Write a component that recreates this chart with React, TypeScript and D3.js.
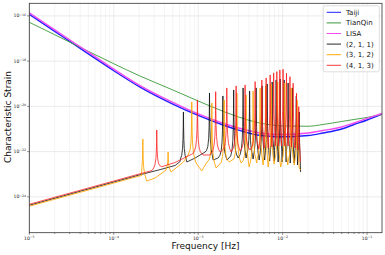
import React from 'react';
import * as d3 from 'd3';

type Pt = [number, number];

// sensitivity curves, read at fixed frequencies
const sensFreq = [1e-5, 2e-5, 5e-5, 1e-4, 2e-4, 5e-4, 1e-3, 2e-3, 3e-3, 5e-3, 7e-3, 1e-2, 2e-2, 3e-2, 5e-2, 7e-2, 1e-1, 0.15];
const taiji = [1.16e-16, 2.06e-17, 2.1e-18, 3.76e-19, 7.44e-20, 1.26e-20, 3.96e-21, 1.46e-21, 8.93e-22, 5.43e-22, 4.8e-22, 4.56e-22, 5.15e-22, 6.65e-22, 1.0e-21, 1.58e-21, 2.5e-21, 4.61e-21];
const tianqin = [5.21e-17, 1.47e-17, 2.71e-18, 7.67e-19, 2.28e-19, 5.32e-20, 1.72e-20, 5.94e-21, 3.4e-21, 1.94e-21, 1.55e-21, 1.36e-21, 1.32e-21, 1.58e-21, 2.15e-21, 2.63e-21, 3.23e-21, 4.38e-21];
const lisa = [1.36e-16, 2.4e-17, 2.48e-18, 4.43e-19, 8.67e-20, 1.49e-20, 4.61e-21, 1.75e-21, 1.11e-21, 7.0e-22, 6.01e-22, 5.71e-22, 6.65e-22, 8.59e-22, 1.23e-21, 1.84e-21, 2.92e-21, 4.85e-21];

// harmonic modes: smooth floor (troughs) + resonance tops
const floor211: Pt[] = [
  [1e-5, 4.25e-25], [1e-4, 4.52e-24], [2e-4, 9.22e-24], [3.54e-4, 1.6e-23], [5.32e-4, 2.43e-23],
  [6.1e-4, 3.65e-23], [7.33e-4, 3.47e-23], [9.19e-4, 5.21e-23], [1.21e-3, 9.6e-23], [1.5e-3, 4.25e-23],
  [1.72e-3, 5.21e-23], [2.2e-3, 4.25e-23], [2.97e-3, 5.21e-23], [3.69e-3, 5.21e-23], [4.47e-3, 4.71e-23],
  [5.27e-3, 4.25e-23], [6.12e-3, 4.25e-23], [7.01e-3, 3.84e-23], [7.93e-3, 3.84e-23], [8.84e-3, 3.47e-23],
  [9.86e-3, 3.47e-23], [1.1e-2, 3.47e-23], [1.23e-2, 3.13e-23], [1.37e-2, 3.13e-23], [1.5e-2, 2.55e-23],
  [1.63e-2, 1.25e-23],
];
const peaks211: Pt[] = [
  [6.68e-4, 5.65e-21], [1.36e-3, 3.92e-20], [1.96e-3, 2.88e-20], [2.63e-3, 5.32e-20], [3.4e-3, 6.52e-20],
  [4.06e-3, 4.8e-20], [4.85e-3, 6.52e-20], [5.71e-3, 8.0e-20], [6.55e-3, 9.8e-20], [7.51e-3, 1.2e-19],
  [8.37e-3, 1.47e-19], [9.34e-3, 1.63e-19], [1.04e-2, 1.47e-19], [1.16e-2, 1.08e-19], [1.3e-2, 6.52e-20],
  [1.45e-2, 2.88e-20], [1.57e-2, 5.65e-21],
];

const floor312: Pt[] = [
  [1e-5, 3.84e-25], [1e-4, 4.08e-24], [2e-4, 8.32e-24], [2.13e-4, 8.75e-24], [2.46e-4, 5.0e-24],
  [3.08e-4, 6.79e-24], [4.17e-4, 1.53e-23], [4.77e-4, 1.25e-23], [6.68e-4, 3.47e-23], [7.59e-4, 7.08e-23],
  [9.44e-4, 3.13e-23], [1.1e-3, 1.39e-23], [1.27e-3, 3.47e-23], [1.63e-3, 1.88e-23], [2.32e-3, 3.47e-23],
  [3.22e-3, 3.13e-23], [4.01e-3, 2.08e-23], [4.92e-3, 3.13e-23], [5.87e-3, 2.55e-23], [6.73e-3, 2.08e-23],
  [7.93e-3, 2.83e-23], [9.47e-3, 2.08e-23], [1.15e-2, 2.55e-23], [1.37e-2, 2.55e-23], [1.57e-2, 1.88e-23],
  [1.63e-2, 1.53e-23],
];
const peaks312: Pt[] = [
  [2.21e-4, 3.61e-22], [4.4e-4, 9.6e-23], [8.39e-4, 1.57e-20], [1.45e-3, 1.41e-20], [2.03e-3, 1.92e-20],
  [2.87e-3, 3.92e-20], [3.69e-3, 3.19e-20], [4.47e-3, 4.8e-20], [5.41e-3, 6.52e-20], [6.29e-3, 8.0e-20],
  [7.31e-3, 9.8e-20], [8.73e-3, 1.2e-19], [1.06e-2, 1.08e-19], [1.26e-2, 6.52e-20], [1.48e-2, 1.92e-20],
];

const floor413: Pt[] = [
  [1e-5, 4.7e-25], [1e-4, 5.0e-24], [2e-4, 1.02e-23], [2.84e-4, 1.46e-23], [3.7e-4, 2.15e-23],
  [5.32e-4, 3.3e-23], [6.99e-4, 5.48e-23], [8.77e-4, 8.41e-23], [1.14e-3, 7.08e-23], [1.38e-3, 7.08e-23],
  [1.82e-3, 9.6e-23], [2.45e-3, 9.6e-23], [3.14e-3, 1.06e-22], [4.12e-3, 1.18e-22], [5.2e-3, 1.3e-22],
  [6.04e-3, 1.44e-22], [6.73e-3, 1.44e-22], [7.46e-3, 1.6e-22], [8.17e-3, 1.77e-22], [8.89e-3, 1.77e-22],
  [9.68e-3, 1.77e-22], [1.06e-2, 1.77e-22], [1.16e-2, 1.77e-22], [1.27e-2, 1.6e-22], [1.39e-2, 1.44e-22],
  [1.5e-2, 1.18e-22], [1.62e-2, 3.47e-23],
];
const peaks413: Pt[] = [
  [3.23e-4, 9.03e-22], [9.78e-4, 1.92e-20], [1.61e-3, 4.47e-20], [2.18e-3, 6.52e-20], [2.81e-3, 8.0e-20],
  [3.59e-3, 8.85e-20], [4.72e-3, 1.24e-19], [5.67e-3, 1.47e-19], [6.37e-3, 1.81e-19], [7.11e-3, 2.45e-19],
  [7.82e-3, 3.01e-19], [8.53e-3, 3.43e-19], [9.26e-3, 4.08e-19], [1.01e-2, 4.38e-19], [1.11e-2, 2.92e-19],
  [1.22e-2, 2.06e-19], [1.33e-2, 1.05e-19], [1.46e-2, 3.8e-20], [1.55e-2, 9.7e-21],
];

const xDomain = [1e-5, 0.15];
const yDomain = [2.6e-26, 3.6e-16];
const xMajor = [-5, -4, -3, -2, -1];
const yMajor = [-16, -18, -20, -22, -24];

// merge the resonance tops into the floor as cusps (log-log)
const withPeaks = (floor: Pt[], peaks: Pt[]): Pt[] => {
  const lx = floor.map((d) => Math.log10(d[0]));
  const ly = floor.map((d) => Math.log10(d[1]));
  const base = (p: number) => {
    const i = Math.max(0, Math.min(lx.length - 2, d3.bisectRight(lx, p) - 1));
    const t = (p - lx[i]) / (lx[i + 1] - lx[i]);
    return ly[i] + t * (ly[i + 1] - ly[i]);
  };
  const pts: Pt[] = lx.map((v, i) => [v, ly[i]]);
  const side = [[0.002, 0.7], [0.005, 0.45], [0.01, 0.27], [0.02, 0.13], [0.035, 0.05]];
  const shape = [...side.map(([o, k]) => [-o, k]), [0, 1], ...side];
  peaks.forEach(([f, h]) => {
    const lf = Math.log10(f);
    const lh = Math.log10(h);
    const i = d3.bisectRight(lx, lf) - 1;
    shape.forEach(([o, k]) => {
      const p = lf + o;
      if (p <= lx[i] + 0.003 || p >= lx[i + 1] - 0.003) return;
      const b = base(p);
      pts.push([p, b + k * (lh - b)]);
    });
  });
  return pts.sort((a, b) => a[0] - b[0]).map(([a, b]) => [10 ** a, 10 ** b] as Pt);
};

const sens = [
  { name: 'Taiji', values: taiji, color: '#1f1fff', width: 1.4 },
  { name: 'TianQin', values: tianqin, color: '#3a9a3a', width: 0.9 },
  { name: 'LISA', values: lisa, color: '#f04cf0', width: 1.4 },
];
const modes = [
  { name: '(2, 1, 1)', pts: withPeaks(floor211, peaks211), color: '#111111', opacity: 0.9 },
  { name: '(3, 1, 2)', pts: withPeaks(floor312, peaks312), color: '#ffa500', opacity: 0.95 },
  { name: '(4, 1, 3)', pts: withPeaks(floor413, peaks413), color: '#ff1a1a', opacity: 0.85 },
];

const Sup = ({ e, size }: { e: number; size: number }) => (
  <>
    10
    <tspan dy={-size * 0.42} fontSize={size * 0.7}>{`\u2212${Math.abs(e)}`}</tspan>
  </>
);

export default function App() {
  const left = 29.3, right = 382, top = 3.3, bottom = 232.7;
  const x = d3.scaleLog().domain(xDomain).range([left, right]);
  const y = d3.scaleLog().domain(yDomain).range([bottom, top]);

  const xMinor: number[] = [];
  xMajor.forEach((e) => {
    for (let k = 2; k <= 9; k += 1) {
      const f = k * 10 ** e;
      if (f < xDomain[1]) xMinor.push(f);
    }
  });

  const line = d3.line<Pt>().x((d) => x(d[0])).y((d) => y(d[1]));
  const smooth = d3.line<Pt>().x((d) => x(d[0])).y((d) => y(d[1])).curve(d3.curveMonotoneX);

  const legend = [
    ...sens.map((s) => ({ name: s.name, color: s.color, opacity: 1 })),
    ...modes.map((m) => ({ name: m.name, color: m.color, opacity: m.opacity })),
  ];

  return (
    <div style={{ position: 'absolute', left: 0, top: 0 }}>
      <svg width={385} height={255} style={{ display: 'block', background: '#fff' }} fontFamily="DejaVu Sans">
        <defs>
          <clipPath id="plot">
            <rect x={left} y={top} width={right - left} height={bottom - top} />
          </clipPath>
        </defs>
        {/* grid */}
        <g stroke="#ececec" strokeWidth={0.6}>
          {xMinor.map((f) => <line key={f} x1={x(f)} x2={x(f)} y1={top} y2={bottom} />)}
        </g>
        <g stroke="#e2e2e2" strokeWidth={0.7}>
          {xMajor.map((e) => <line key={e} x1={x(10 ** e)} x2={x(10 ** e)} y1={top} y2={bottom} />)}
          {yMajor.map((e) => <line key={e} x1={left} x2={right} y1={y(10 ** e)} y2={y(10 ** e)} />)}
        </g>

        <g clipPath="url(#plot)" fill="none" strokeLinejoin="round">
          {sens.map((s) => (
            <path
              key={s.name}
              d={smooth(sensFreq.map((f, i) => [f, s.values[i]] as Pt)) || ''}
              stroke={s.color}
              strokeWidth={s.width}
            />
          ))}
          {modes.map((m) => (
            <path key={m.name} d={line(m.pts) || ''} stroke={m.color} strokeOpacity={m.opacity} strokeWidth={0.9} />
          ))}
        </g>

        {/* spines */}
        <rect x={left} y={top} width={right - left} height={bottom - top} fill="none" stroke="#333" strokeWidth={0.8} />

        {/* ticks */}
        <g stroke="#444" strokeWidth={0.6}>
          {xMajor.map((e) => <line key={e} x1={x(10 ** e)} x2={x(10 ** e)} y1={bottom} y2={bottom + 2.2} />)}
          {xMinor.map((f) => <line key={f} x1={x(f)} x2={x(f)} y1={bottom} y2={bottom + 1.3} />)}
          {yMajor.map((e) => <line key={e} x1={left - 2.2} x2={left} y1={y(10 ** e)} y2={y(10 ** e)} />)}
        </g>
        <g fontSize={4.6} fill="#222" textAnchor="middle">
          {xMajor.map((e) => (
            <text key={e} x={x(10 ** e)} y={bottom + 7.3}>
              <Sup e={e} size={4.6} />
            </text>
          ))}
        </g>
        <g fontSize={4.6} fill="#222" textAnchor="end">
          {yMajor.map((e) => (
            <text key={e} x={left - 3.2} y={y(10 ** e) + 1.6}>
              <Sup e={e} size={4.6} />
            </text>
          ))}
        </g>

        <text x={205.5} y={249.3} fontSize={9} textAnchor="middle" fill="#111">Frequency [Hz]</text>
        <text transform="translate(10.6,117) rotate(-90)" fontSize={9} textAnchor="middle" fill="#111">Characteristic Strain</text>

        {/* legend */}
        <g>
          <rect x={323.3} y={5.8} width={56} height={66} rx={2} fill="#fff" fillOpacity={0.85} stroke="#d0d0d0" strokeWidth={0.7} />
          {legend.map((l, i) => {
            const ly = 12.3 + i * 10.6;
            return (
              <g key={l.name}>
                <line x1={326.7} x2={341} y1={ly} y2={ly} stroke={l.color} strokeOpacity={l.opacity} strokeWidth={1} />
                <text x={346} y={ly + 2.4} fontSize={7} fill="#111">{l.name}</text>
              </g>
            );
          })}
        </g>
      </svg>
    </div>
  );
}
